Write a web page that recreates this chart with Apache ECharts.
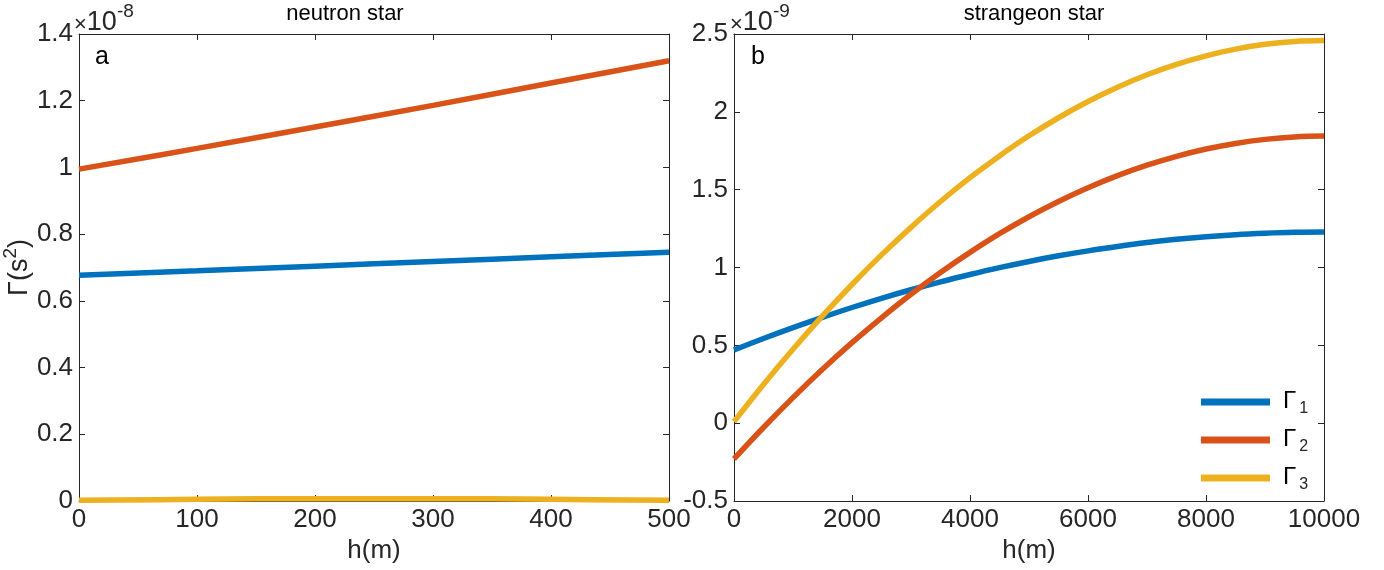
<!DOCTYPE html>
<html>
<head>
<meta charset="utf-8">
<script src="https://cdn.jsdelivr.net/npm/echarts@6/dist/echarts.min.js"></script>
<style>
html,body{margin:0;padding:0;background:#fff;}
#chart{width:1384px;height:570px;}
</style>
</head>
<body>
<div id="chart"></div>
<script>
// ---- Data ----
const titles = ['neutron star', 'strangeon star'];
const panelLetters = ['a', 'b'];
const seriesNames = ['Γ1', 'Γ2', 'Γ3'];
const colors = ['#0072BD', '#D95319', '#EDB120'];

// Panel a (neutron star), h in m, values in units of 1e-8 s^2
const hA = [0, 100, 200, 300, 400, 500];
const gamma1A = [0.677, 0.690, 0.704, 0.718, 0.732, 0.746];
const gamma2A = [0.995, 1.057, 1.121, 1.186, 1.253, 1.320];
const gamma3A = [0.002, 0.005, 0.007, 0.007, 0.005, 0.002];

// Panel b (strangeon star), h in m, values in units of 1e-9 s^2
const hB = [0, 500, 1000, 1500, 2000, 2500, 3000, 3500, 4000, 4500, 5000,
            5500, 6000, 6500, 7000, 7500, 8000, 8500, 9000, 9500, 10000];
const gamma1B = [0.470, 0.544, 0.614, 0.680, 0.743, 0.802, 0.857, 0.908, 0.955, 0.999, 1.039,
                 1.075, 1.107, 1.135, 1.160, 1.181, 1.198, 1.211, 1.220, 1.226, 1.228];
const gamma2B = [-0.230, -0.028, 0.164, 0.346, 0.517, 0.677, 0.828, 0.968, 1.097, 1.217, 1.326,
                 1.424, 1.512, 1.590, 1.657, 1.714, 1.761, 1.797, 1.823, 1.839, 1.844];
const gamma3B = [0.010, 0.249, 0.475, 0.689, 0.891, 1.081, 1.258, 1.424, 1.577, 1.717, 1.846,
                 1.962, 2.066, 2.158, 2.238, 2.305, 2.360, 2.403, 2.434, 2.452, 2.458];

// Axis ranges / ticks
const xRangeA = [0, 500, 100];
const yRangeA = [0, 1.4, 0.2];
const xRangeB = [0, 10000, 2000];
const yRangeB = [-0.5, 2.5, 0.5];
const exponents = ['-8', '-9'];
const xName = 'h(m)';

// ---- Build ----
const FONT = 'Liberation Sans, Arial, sans-serif';
const TXT = '#262626';
const LBL = 26;
const grids = [
  {left: 78, top: 34, width: 591, height: 467},
  {left: 734, top: 34, width: 590, height: 467}
];
const titleCenters = [340, 1029];

function pairs(xs, ys) { return xs.map((x, i) => [x, ys[i]]); }

const axisLine = {show: true, onZero: false, lineStyle: {color: TXT, width: 1}};
const axisTick = {show: true, inside: true, length: 6, lineStyle: {color: TXT, width: 1}};

function fmt(v) { return String(Math.round(v * 10) / 10); }

const xAxes = [], yAxes = [];
[[xRangeA, yRangeA], [xRangeB, yRangeB]].forEach(([xr, yr], gi) => {
  xAxes.push({
    type: 'value', gridIndex: gi, position: 'bottom', min: xr[0], max: xr[1], interval: xr[2],
    axisLine, axisTick, splitLine: {show: false},
    axisLabel: {color: TXT, fontSize: LBL, fontFamily: FONT, margin: 6, formatter: v => String(v)},
    name: xName, nameLocation: 'middle', nameGap: 33,
    nameTextStyle: {color: TXT, fontSize: LBL, fontFamily: FONT}
  });
  xAxes.push({
    type: 'value', gridIndex: gi, position: 'top', min: xr[0], max: xr[1], interval: xr[2],
    axisLine, axisTick, splitLine: {show: false}, axisLabel: {show: false}
  });
  const yl = {
    type: 'value', gridIndex: gi, position: 'left', min: yr[0], max: yr[1], interval: yr[2],
    axisLine, axisTick, splitLine: {show: false},
    axisLabel: {color: TXT, fontSize: LBL, fontFamily: FONT, margin: 6, formatter: fmt}
  };
  if (gi === 0) {
    yl.name = '{g|Γ(s}{s|2}{g|)}';
    yl.nameLocation = 'middle';
    yl.nameGap = 41;
    yl.nameTextStyle = {
      color: TXT, fontFamily: FONT,
      rich: {
        g: {fontSize: 27, fontFamily: FONT, color: TXT, verticalAlign: 'bottom'},
        s: {fontSize: 19, fontFamily: FONT, color: TXT, verticalAlign: 'top', padding: [0, 0, 13, 0]}
      }
    };
  }
  yAxes.push(yl);
  yAxes.push({
    type: 'value', gridIndex: gi, position: 'right', min: yr[0], max: yr[1], interval: yr[2],
    axisLine, axisTick, splitLine: {show: false}, axisLabel: {show: false}
  });
});

const dataA = [gamma1A, gamma2A, gamma3A];
const dataB = [gamma1B, gamma2B, gamma3B];
const series = [];
dataA.forEach((d, i) => series.push({
  name: seriesNames[i], type: 'line', xAxisIndex: 0, yAxisIndex: 0,
  data: pairs(hA, d), smooth: 0.4, showSymbol: false, symbol: 'none',
  lineStyle: {color: colors[i], width: 5.5}, itemStyle: {color: colors[i]}, z: 3
}));
dataB.forEach((d, i) => series.push({
  name: seriesNames[i], type: 'line', xAxisIndex: 2, yAxisIndex: 2,
  data: pairs(hB, d), smooth: 0.4, showSymbol: false, symbol: 'none',
  lineStyle: {color: colors[i], width: 5.5}, itemStyle: {color: colors[i]}, z: 3
}));

const graphics = [];
grids.forEach((g, gi) => {
  graphics.push({
    type: 'text', left: g.left - 4, top: 2,
    style: {
      text: '{x|×}{t|10}{e|' + exponents[gi] + '}',
      rich: {
        x: {fontSize: 22, fontFamily: FONT, fill: TXT, verticalAlign: 'bottom'},
        t: {fontSize: 27, fontFamily: FONT, fill: TXT, verticalAlign: 'bottom'},
        e: {fontSize: 19, fontFamily: FONT, fill: TXT, verticalAlign: 'top', padding: [0, 0, 15, 0]}
      }
    }
  });
  graphics.push({
    type: 'text', left: g.left + 17, top: 45,
    style: {text: panelLetters[gi], fontSize: 25, fontFamily: FONT, fill: '#000'}
  });
});

const option = {
  backgroundColor: '#fff',
  animation: false,
  title: titles.map((t, i) => ({
    text: t, left: titleCenters[i], top: -2, textAlign: 'center',
    textStyle: {fontSize: 22, fontWeight: 'normal', color: '#000', fontFamily: FONT}
  })),
  grid: grids,
  xAxis: xAxes,
  yAxis: yAxes,
  legend: {
    data: seriesNames, orient: 'vertical', left: 1196, top: 384,
    icon: 'rect', itemWidth: 69, itemHeight: 7, itemGap: 10,
    formatter: n => '{g|Γ}{s|' + n.slice(1) + '}',
    textStyle: {
      color: '#000', fontFamily: FONT, padding: [0, 0, 0, 8],
      rich: {
        g: {fontSize: 24, fontFamily: FONT, color: '#000', verticalAlign: 'top', height: 28},
        s: {fontSize: 16, fontFamily: FONT, color: TXT, verticalAlign: 'bottom', padding: [14, 0, 0, 3]}
      }
    }
  },
  graphic: graphics,
  series
};

const chart = echarts.init(document.getElementById('chart'), null, {renderer: 'canvas'});
chart.setOption(option);
</script>
</body>
</html>
